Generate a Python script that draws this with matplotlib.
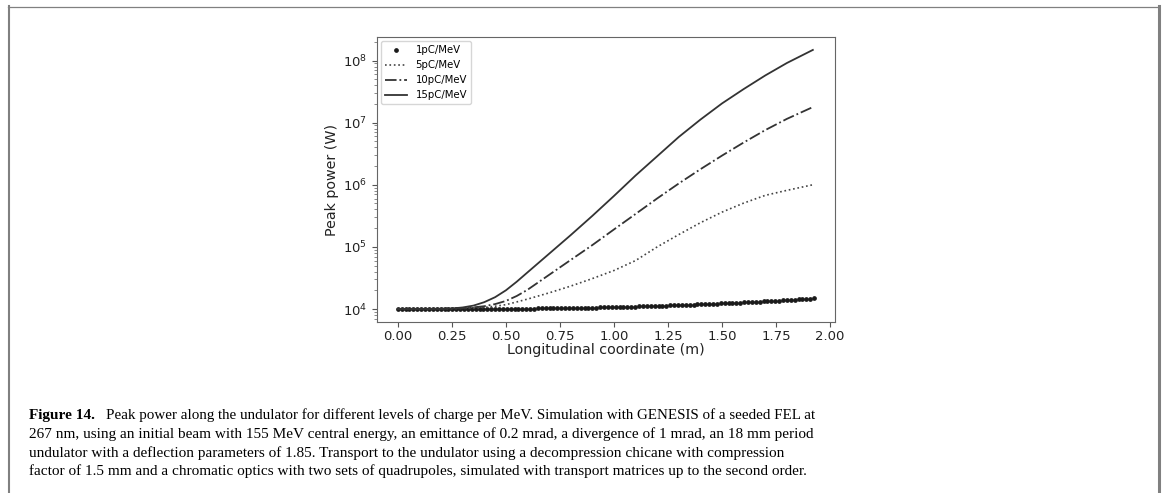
import numpy as np
import matplotlib.pyplot as plt
from matplotlib.lines import Line2D

# 1 pC/MeV: one sample per undulator period (18 mm)
z_dots = np.arange(108) * 0.018
p_1pc = [10000, 10000, 10000, 10000, 10000, 10010, 10000, 10000, 10010, 10000, 10010, 10010,
         10010, 10020, 10010, 10020, 10030, 10020, 10040, 10030, 10050, 10040, 10060, 10050,
         10060, 10080, 10070, 10090, 10080, 10110, 10100, 10130, 10120, 10150, 10140, 10180,
         10200, 10230, 10220, 10260, 10270, 10300, 10310, 10350, 10360, 10400, 10410, 10460,
         10470, 10510, 10530, 10580, 10600, 10650, 10670, 10720, 10750, 10800, 10830, 10890,
         10920, 10970, 11010, 11070, 11110, 11170, 11210, 11280, 11320, 11390, 11440, 11510,
         11560, 11630, 11680, 11760, 11810, 11890, 11950, 12030, 12090, 12180, 12240, 12330,
         12400, 12490, 12560, 12660, 12730, 12830, 12910, 13020, 13100, 13210, 13290, 13410,
         13490, 13610, 13700, 13830, 13920, 14050, 14150, 14290, 14390, 14540, 14640, 14800]

z_line = [0.0, 0.1, 0.2, 0.25, 0.3, 0.35, 0.4, 0.45, 0.5, 0.55, 0.6, 0.7,
          0.8, 0.9, 1.0, 1.1, 1.2, 1.3, 1.4, 1.5, 1.6, 1.7, 1.8, 1.92]
p_5pc = [1.0e4, 1.0e4, 1.002e4, 1.007e4, 1.02e4, 1.035e4, 1.06e4, 1.11e4, 1.175e4, 1.30e4,
         1.445e4, 1.82e4, 2.34e4, 3.09e4, 4.17e4, 6.03e4, 1.0e5, 1.58e5, 2.45e5, 3.63e5,
         5.07e5, 6.76e5, 8.13e5, 1.0e6]
p_10pc = [1.0e4, 1.0e4, 1.005e4, 1.014e4, 1.035e4, 1.064e4, 1.11e4, 1.20e4, 1.35e4, 1.62e4,
          2.04e4, 3.55e4, 6.17e4, 1.07e5, 1.91e5, 3.39e5, 6.03e5, 1.05e6, 1.78e6, 2.95e6,
          4.79e6, 7.59e6, 1.15e7, 1.78e7]
p_15pc = [1.0e4, 1.0e4, 1.01e4, 1.02e4, 1.06e4, 1.135e4, 1.29e4, 1.55e4, 2.0e4, 2.75e4,
          3.89e4, 7.76e4, 1.55e5, 3.16e5, 6.61e5, 1.41e6, 2.88e6, 5.89e6, 1.12e7, 2.04e7,
          3.47e7, 5.75e7, 9.12e7, 1.48e8]

labels = ['1pC/MeV', '5pC/MeV', '10pC/MeV', '15pC/MeV']

fig = plt.figure(figsize=(11.65, 4.93), dpi=100)
ax = fig.add_axes([0.3236, 0.3469, 0.3931, 0.5781])

ax.plot(z_dots, p_1pc, '.', color='#1a1a1a', ms=4.8, label=labels[0])
ax.plot(z_line, p_5pc, ':', color='#444444', lw=1.2, label=labels[1])
ax.plot(z_line, p_10pc, '-.', color='#333333', lw=1.3, label=labels[2])
ax.plot(z_line, p_15pc, '-', color='#333333', lw=1.3, label=labels[3])
ax.set_yscale('log')

ax.set_xticks([0, 0.25, 0.5, 0.75, 1.0, 1.25, 1.5, 1.75, 2.0])
ax.set_xticklabels(['0.00', '0.25', '0.50', '0.75', '1.00', '1.25', '1.50', '1.75', '2.00'])
ax.tick_params(labelsize=9.5, colors='#555555', labelcolor='#222222')
ax.tick_params(axis='x', pad=2.5)
ax.tick_params(which='minor', colors='#777777')
ax.set_xlabel('Longitudinal coordinate (m)', fontsize=10.3, color='#222222', labelpad=0)
ax.set_ylabel('Peak power (W)', fontsize=10.3, color='#222222', labelpad=3)
for s in ax.spines.values():
    s.set_color('#666666')

leg = ax.legend(loc='upper left', fontsize=7.3, frameon=True, handlelength=2.2,
                borderaxespad=0.4)
leg.get_frame().set_edgecolor('#cccccc')

# caption
fx = 29 / 1165
base = [419, 437.8, 456.6, 475.4]
cap_fs = 11.0
t = fig.text(fx, 1 - base[0] / 493, 'Figure 14.', family='Liberation Serif', weight='bold',
             fontsize=cap_fs, va='baseline')
fig.canvas.draw()
bb = t.get_window_extent()
fig.text((bb.x1 + 11) / 1165, 1 - base[0] / 493,
         'Peak power along the undulator for different levels of charge per MeV. '
         'Simulation with GENESIS of a seeded FEL at',
         family='Liberation Serif', fontsize=10.8, va='baseline')
rest = ['267 nm, using an initial beam with 155 MeV central energy, an emittance of 0.2 mrad, '
        'a divergence of 1 mrad, an 18 mm period',
        'undulator with a deflection parameters of 1.85. Transport to the undulator using a '
        'decompression chicane with compression',
        'factor of 1.5 mm and a chromatic optics with two sets of quadrupoles, simulated with '
        'transport matrices up to the second order.']
for b, line in zip(base[1:], rest):
    fig.text(fx, 1 - b / 493, line, family='Liberation Serif', fontsize=cap_fs, va='baseline')

# page frame
gray = '#808080'
fig.add_artist(Line2D([8.5 / 1165, 8.5 / 1165], [0, 1 - 6 / 493], transform=fig.transFigure,
                      color=gray, lw=1.5))
fig.add_artist(Line2D([8 / 1165, 1159 / 1165], [1 - 6.5 / 493, 1 - 6.5 / 493],
                      transform=fig.transFigure, color=gray, lw=0.9))
fig.add_artist(Line2D([1158.5 / 1165, 1158.5 / 1165], [0, 1 - 6 / 493], transform=fig.transFigure,
                      color=gray, lw=2.2))

fig.savefig('out.png', dpi=100)
